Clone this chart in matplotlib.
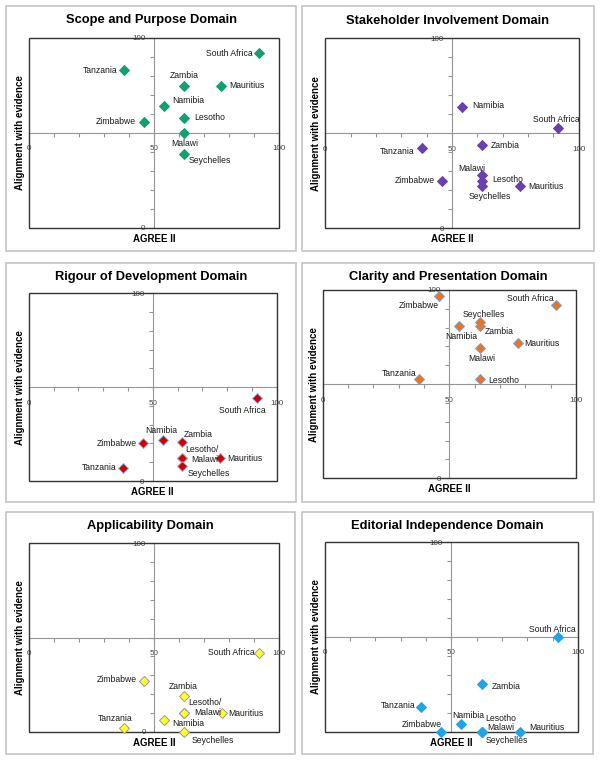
import matplotlib
matplotlib.use('Agg')
import matplotlib.pyplot as plt
from matplotlib.patches import Rectangle
from matplotlib.ticker import MultipleLocator, FixedLocator

plt.rcParams['font.family'] = ['Liberation Sans', 'DejaVu Sans']

# data
countries = ['South Africa', 'Tanzania', 'Zambia', 'Mauritius', 'Namibia',
             'Lesotho', 'Zimbabwe', 'Malawi', 'Seychelles']
agree = [92, 38, 62, 77, 54, 62, 46, 62, 62]

scope = [92, 83, 75, 75, 64, 58, 56, 50, 39]
stakeholder = [53, 42, 44, 22, 64, 25, 25, 28, 22]
rigour = [44, 7, 21, 12, 22, 12, 20, 12, 8]
clarity = [92, 53, 81, 72, 81, 53, 97, 69, 83]
applicability = [42, 2, 19, 10, 6, 10, 27, 10, 0]
editorial = [50, 13, 25, 0, 4, 0, 0, 0, 0]

titles = ['Scope and Purpose Domain', 'Stakeholder Involvement Domain',
          'Rigour of Development Domain', 'Clarity and Presentation Domain',
          'Applicability Domain', 'Editorial Independence Domain']
domains = [scope, stakeholder, rigour, clarity, applicability, editorial]

# styles
fills = ['#12a070', '#6a3fae', '#cc0000', '#ea7420', '#ffff30', '#1ea4ea']
edges = ['#12a070', '#6a3fae', '#8fb4e3', '#7f9fc8', '#999999', '#1ea4ea']

# label placement: country -> (text, dx px, dy px, ha)
LM = 'Lesotho/\nMalawi'
labels = [
    {'South Africa': ('South Africa', -6, 0, 'right'), 'Tanzania': ('Tanzania', -6, 0, 'right'),
     'Zambia': ('Zambia', 0, 10, 'center'), 'Mauritius': ('Mauritius', 8, 0, 'left'),
     'Namibia': ('Namibia', 8, 6, 'left'), 'Lesotho': ('Lesotho', 10, 0, 'left'),
     'Zimbabwe': ('Zimbabwe', -8, 0, 'right'), 'Malawi': ('Malawi', 1, -10, 'center'),
     'Seychelles': ('Seychelles', 5, -7, 'left')},
    {'South Africa': ('South Africa', -2, 8, 'center'), 'Tanzania': ('Tanzania', -7, -3, 'right'),
     'Zambia': ('Zambia', 8, -1, 'left'), 'Mauritius': ('Mauritius', 8, 0, 'left'),
     'Namibia': ('Namibia', 10, 1, 'left'), 'Lesotho': ('Lesotho', 10, 1, 'left'),
     'Zimbabwe': ('Zimbabwe', -7, 0, 'right'), 'Malawi': ('Malawi', -11, 7, 'center'),
     'Seychelles': ('Seychelles', 7, -10, 'center')},
    {'South Africa': ('South Africa', -15, -12, 'center'), 'Tanzania': ('Tanzania', -7, 0, 'right'),
     'Zambia': ('Zambia', 1, 7, 'left'), 'Mauritius': ('Mauritius', 8, 0, 'left'),
     'Namibia': ('Namibia', -1, 9, 'center'), 'Lesotho': (LM, 3, 4, 'left'),
     'Zimbabwe': ('Zimbabwe', -6, 0, 'right'), 'Malawi': ('', 0, 0, 'left'),
     'Seychelles': ('Seychelles', 5, -8, 'left')},
    {'South Africa': ('South Africa', -2, 7, 'right'), 'Tanzania': ('Tanzania', -3, 5, 'right'),
     'Zambia': ('Zambia', 5, -6, 'left'), 'Mauritius': ('Mauritius', 7, -1, 'left'),
     'Namibia': ('Namibia', 2, -11, 'center'), 'Lesotho': ('Lesotho', 9, -2, 'left'),
     'Zimbabwe': ('Zimbabwe', 0, -10, 'right'), 'Malawi': ('Malawi', 2, -10, 'center'),
     'Seychelles': ('Seychelles', 4, 8, 'center')},
    {'South Africa': ('South Africa', -5, 0, 'right'), 'Tanzania': ('Tanzania', -9, 9, 'center'),
     'Zambia': ('Zambia', -1, 9, 'center'), 'Mauritius': ('Mauritius', 7, -1, 'left'),
     'Namibia': ('Namibia', 8, -3, 'left'), 'Lesotho': (LM, 4, 5, 'left'),
     'Zimbabwe': ('Zimbabwe', -7, 1, 'right'), 'Malawi': ('', 0, 0, 'left'),
     'Seychelles': ('Seychelles', 8, -9, 'left')},
    {'South Africa': ('South Africa', -5, 8, 'center'), 'Tanzania': ('Tanzania', -6, 2, 'right'),
     'Zambia': ('Zambia', 10, -2, 'left'), 'Mauritius': ('Mauritius', 10, 4, 'left'),
     'Namibia': ('Namibia', 7, 9, 'center'), 'Lesotho': ('Lesotho', 4, 13, 'left'),
     'Zimbabwe': ('Zimbabwe', 1, 7, 'right'), 'Malawi': ('Malawi', 6, 4, 'left'),
     'Seychelles': ('Seychelles', 4, -9, 'left')},
]

W, H = 600, 763
# plot boxes (left, top, right, bottom) in pixels
boxes = [(28.7, 38, 279, 228), (325.3, 38.3, 578.7, 228.3),
         (28.7, 293.3, 276.7, 481), (322.7, 290, 576, 478.3),
         (28.7, 543.3, 279.3, 731.7), (324.7, 542.3, 578, 731.7)]
frames = [(6, 6, 296, 251), (302, 6, 594, 251),
          (6, 263, 296, 502), (302, 263, 594, 502),
          (6, 512, 295, 754), (302, 512, 593, 754)]

fig = plt.figure(figsize=(6, 7.63), dpi=100)

for i in range(6):
    fl, ft, fr, fb = frames[i]
    fig.add_artist(Rectangle((fl / W, 1 - fb / H), (fr - fl) / W, (fb - ft) / H,
                             transform=fig.transFigure, fill=False,
                             ec='#c4c4c4', lw=1.2))
    fig.text((fl + fr) / 2 / W, 1 - (ft + 14.5) / H, titles[i], ha='center',
             va='center', fontsize=9.3, fontweight='bold')

    l, t, r, b = boxes[i]
    ax = fig.add_axes([l / W, 1 - b / H, (r - l) / W, (b - t) / H])
    ax.set_xlim(0, 100)
    ax.set_ylim(0, 100)
    ax.set_facecolor('white')
    for s in ['top', 'right']:
        ax.spines[s].set_visible(False)
    ax.spines['left'].set_position(('data', 50))
    ax.spines['bottom'].set_position(('data', 50))
    ax.spines['left'].set_color('#959595')
    ax.spines['bottom'].set_color('#959595')
    ax.spines['left'].set_linewidth(0.8)
    ax.spines['bottom'].set_linewidth(0.8)
    ax.add_patch(Rectangle((0, 0), 1, 1, transform=ax.transAxes, fill=False,
                           ec='#333333', lw=1.0, clip_on=False, zorder=3))

    ax.xaxis.set_major_locator(FixedLocator([0, 50, 100]))
    ax.xaxis.set_minor_locator(MultipleLocator(10))
    ax.yaxis.set_major_locator(FixedLocator([0, 100]))
    ax.yaxis.set_minor_locator(MultipleLocator(10))
    ax.tick_params(which='both', direction='out', length=3, color='#959595', width=0.8)
    ax.tick_params(axis='x', which='major', pad=6, labelsize=5.8, labelcolor='#444444')
    ax.tick_params(axis='y', which='major', pad=3, labelsize=5.8, labelcolor='#444444')

    ax.annotate('AGREE II', xy=(0.5, 0), xycoords='axes fraction',
                xytext=(0, -11), textcoords='offset pixels', ha='center',
                va='center', fontsize=7, fontweight='bold')
    ax.annotate('Alignment with evidence', xy=(0, 0.5), xycoords='axes fraction',
                xytext=(-9, 0), textcoords='offset pixels', ha='center',
                va='center', rotation=90, fontsize=7, fontweight='bold')

    ys = domains[i]
    ax.plot(agree, ys, linestyle='none', marker='D', ms=5.2,
            mfc=fills[i], mec=edges[i], mew=0.7, clip_on=False, zorder=5)

    for c, x, y in zip(countries, agree, ys):
        txt, dx, dy, ha = labels[i][c]
        if not txt:
            continue
        ax.annotate(txt, xy=(x, y), xytext=(dx, dy), textcoords='offset pixels',
                    ha=ha, va='center', fontsize=6.2, color='#1a1a1a',
                    multialignment='right', linespacing=1.15,
                    annotation_clip=False, zorder=6)

fig.savefig('out.png', dpi=100, facecolor='white')
